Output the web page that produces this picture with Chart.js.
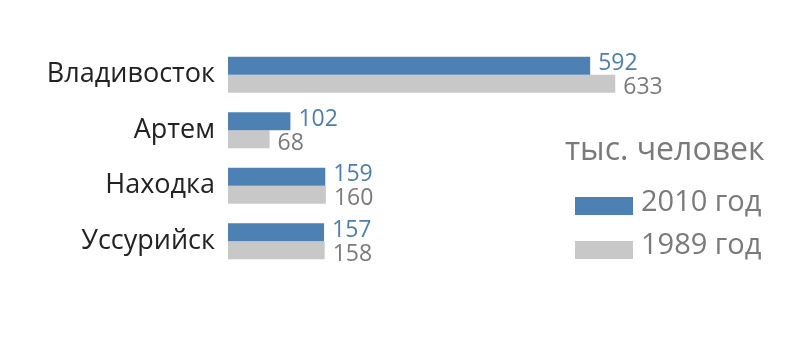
<!DOCTYPE html>
<html><head><meta charset="utf-8">
<script src="https://cdn.jsdelivr.net/npm/chart.js@4"></script>
<style>html,body{margin:0;padding:0;background:#fff}#wrap{width:800px;height:344px;position:relative}</style>
</head><body><div id="wrap"><canvas id="c" width="800" height="344"></canvas></div>
<script>
const categories = ["Владивосток", "Артем", "Находка", "Уссурийск"];
const values2010 = [592, 102, 159, 157];
const values1989 = [633, 68, 160, 158];
const seriesLabels = ["2010 год", "1989 год"];
const unitLabel = "тыс. человек";

const FONT = "'Open Sans', 'Noto Sans', sans-serif";
const BLUE = "#4d80b3";
const GREY = "#c8c8c8";

const overlay = {
  id: 'overlay',
  afterDatasetsDraw(chart) {
    const ctx = chart.ctx;
    ctx.save();
    ctx.textBaseline = 'middle';
    ctx.textAlign = 'left';
    ctx.font = "23px " + FONT;
    const colors = ["#4f7fae", "#7a7a7a"];
    const dy = [-2, 4];
    chart.data.datasets.forEach((ds, di) => {
      const meta = chart.getDatasetMeta(di);
      meta.data.forEach((bar, i) => {
        ctx.fillStyle = colors[di];
        ctx.fillText(String(ds.data[i]), bar.x + 8, bar.y + dy[di]);
      });
    });
    // unit title
    ctx.fillStyle = "#7a7a7a";
    ctx.font = "32px " + FONT;
    ctx.fillText(unitLabel, 565, 151);
    // legend
    ctx.font = "29px " + FONT;
    const boxY = [206, 250];
    const textY = [203, 246];
    chart.data.datasets.forEach((ds, di) => {
      ctx.fillStyle = ds.backgroundColor;
      ctx.fillRect(575, boxY[di] - 9, 58, 18);
      ctx.fillStyle = "#7a7a7a";
      ctx.fillText(ds.label, 641, textY[di]);
    });
    ctx.restore();
  }
};

new Chart(document.getElementById('c'), {
  type: 'bar',
  data: {
    labels: categories,
    datasets: [
      { label: seriesLabels[0], data: values2010, backgroundColor: BLUE },
      { label: seriesLabels[1], data: values1989, backgroundColor: GREY }
    ]
  },
  options: {
    indexAxis: 'y',
    responsive: false,
    animation: false,
    devicePixelRatio: 1,
    layout: { padding: { top: 47, bottom: 75, left: 0, right: 0 } },
    datasets: { bar: { categoryPercentage: 0.65, barPercentage: 1.0 } },
    plugins: { legend: { display: false }, tooltip: { enabled: false } },
    scales: {
      x: { display: false, min: 0, max: 935 },
      y: {
        grid: { display: false },
        border: { display: false },
        ticks: { color: "#222", font: { family: FONT, size: 27 }, padding: 5 },
        afterFit(scale) { scale.width = 228; }
      }
    }
  },
  plugins: [overlay]
});
</script>
</body></html>
